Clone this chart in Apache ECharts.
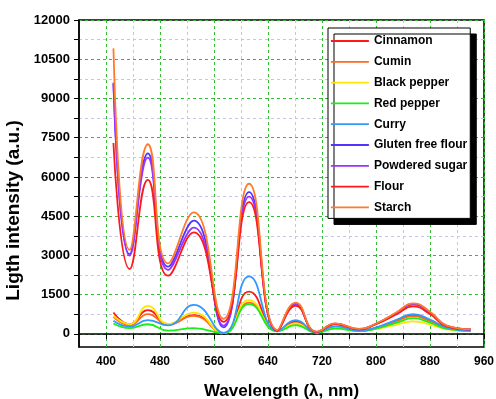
<!DOCTYPE html>
<html>
<head>
<meta charset="utf-8">
<script src="https://cdn.jsdelivr.net/npm/echarts@6/dist/echarts.min.js"></script>
<style>
html, body { margin: 0; padding: 0; background: #fff; }
#main { width: 496px; height: 399px; }
</style>
</head>
<body>
<div id="main"></div>
<script>
// wavelength points (nm)
const wavelengths = [411, 435, 462, 492, 530, 574, 612, 654, 681, 712, 740, 775, 800, 830, 855, 880, 905, 940];

// light intensity (a.u.) per sample
const cinnamon = [817, 370, 908, 370, 720, 30, 1620, 110, 470, 60, 280, 120, 230, 500, 720, 520, 220, 120];
const cumin = [650, 330, 755, 360, 690, 30, 1200, 110, 400, 60, 270, 115, 220, 480, 680, 490, 210, 115];
const blackPepper = [690, 370, 1075, 380, 817, 30, 1290, 110, 400, 55, 260, 110, 190, 350, 480, 360, 170, 110];
const redPepper = [395, 220, 370, 127, 220, 30, 1140, 100, 333, 50, 205, 105, 200, 420, 600, 430, 190, 110];
const curry = [500, 280, 525, 330, 1110, 40, 2200, 120, 525, 65, 290, 125, 250, 540, 755, 550, 240, 125];
const glutenFreeFlour = [9600, 3050, 6900, 2570, 4330, 250, 5420, 130, 1150, 80, 390, 180, 390, 800, 1150, 830, 310, 175];
const powderedSugar = [9550, 2990, 6740, 2450, 4060, 320, 5250, 120, 1120, 75, 380, 175, 380, 780, 1120, 810, 300, 170];
const flour = [7300, 2480, 5890, 2225, 3885, 460, 5035, 130, 1070, 80, 380, 175, 370, 740, 1050, 760, 290, 170];
const starch = [10916, 3210, 7250, 2700, 4650, 580, 5740, 150, 1200, 90, 400, 190, 400, 820, 1170, 850, 320, 180];

const seriesNames = ['Cinnamon', 'Cumin', 'Black pepper', 'Red pepper', 'Curry', 'Gluten free flour', 'Powdered sugar', 'Flour', 'Starch'];
const seriesData = [cinnamon, cumin, blackPepper, redPepper, curry, glutenFreeFlour, powderedSugar, flour, starch];
const seriesColors = ['#ff1a1a', '#ff6a1a', '#ffe600', '#1aee1a', '#3399ff', '#5533ff', '#9933ff', '#ff1a1a', '#ff7a2a'];

// ticks and labels
const xTicks = [400, 440, 480, 520, 560, 600, 640, 680, 720, 760, 800, 840, 880, 920, 960];
const xTickLabels = [400, 480, 560, 640, 720, 800, 880, 960];
const yTicks = [0, 750, 1500, 2250, 3000, 3750, 4500, 5250, 6000, 6750, 7500, 8250, 9000, 9750, 10500, 11250, 12000];
const yTickLabels = [0, 1500, 3000, 4500, 6000, 7500, 9000, 10500, 12000];

const font = 'Liberation Sans, Arial, sans-serif';
const gridColors = ['#33bb33', '#c4c4f0'];

const chart = echarts.init(document.getElementById('main'));

const series = seriesNames.map((name, i) => ({
    name: name,
    type: 'line',
    smooth: 0.5,
    symbol: 'none',
    data: wavelengths.map((w, j) => [w, seriesData[i][j]]),
    lineStyle: { color: seriesColors[i], width: 1.8 },
    itemStyle: { color: seriesColors[i] }
}));

const option = {
    animation: false,
    grid: {
        left: 79, right: 12, top: 20, bottom: 52,
        outerBoundsMode: 'none',
        containLabel: false,
        show: true, borderColor: '#000', borderWidth: 1.5
    },
    legend: {
        orient: 'vertical',
        left: 328, top: 28,
        padding: [7, 3, 5, 2],
        itemWidth: 38, itemHeight: 14, itemGap: 8.8,
        backgroundColor: '#fff',
        borderColor: '#000', borderWidth: 1,
        shadowColor: '#000', shadowBlur: 0, shadowOffsetX: 6, shadowOffsetY: 6,
        itemStyle: { opacity: 0 },
        lineStyle: { width: 1.8 },
        textStyle: { fontFamily: font, fontWeight: 'bold', fontSize: 12, color: '#000' },
        data: seriesNames
    },
    xAxis: {
        type: 'value',
        min: 360, max: 960,
        name: 'Wavelength (\u03bb, nm)',
        nameLocation: 'middle',
        nameGap: 36,
        nameTextStyle: { fontFamily: font, fontWeight: 'bold', fontSize: 17, color: '#000' },
        axisLine: { lineStyle: { color: '#000', width: 1.5 } },
        axisTick: { length: 5, customValues: xTicks, lineStyle: { color: '#000' } },
        axisLabel: {
            customValues: xTickLabels, formatter: v => String(v),
            fontFamily: font, fontWeight: 'bold', fontSize: 12, color: '#000', margin: 9
        },
        splitLine: { show: true, lineStyle: { color: gridColors, type: [3, 3], width: 1 } }
    },
    yAxis: {
        type: 'value',
        min: -500, max: 12000,
        name: 'Ligth intensity (a.u.)',
        nameLocation: 'middle',
        nameGap: 49,
        nameTextStyle: { fontFamily: font, fontWeight: 'bold', fontSize: 19, color: '#000', padding: [0, 54, 0, 0] },
        axisLine: { show: true, lineStyle: { color: '#000', width: 1.5 } },
        axisTick: { show: true, length: 5, customValues: yTicks, lineStyle: { color: '#000' } },
        axisLabel: {
            customValues: yTickLabels, formatter: v => String(v),
            fontFamily: font, fontWeight: 'bold', fontSize: 13, color: '#000', margin: 9
        },
        splitLine: { show: true, lineStyle: { color: gridColors, type: [3, 3], width: 1 } }
    },
    series: series
};

chart.setOption(option);
</script>
</body>
</html>
